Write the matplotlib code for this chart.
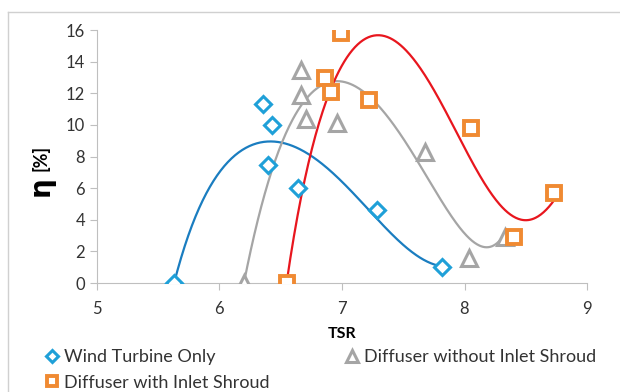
import numpy as np
import matplotlib
matplotlib.use("Agg")
from matplotlib import pyplot as plt

plt.rcParams['font.family'] = ['Lato', 'DejaVu Sans']

# TSR / efficiency readings (markers)
wt_x = [5.63, 6.36, 6.43, 6.40, 6.64, 7.29, 7.82]
wt_y = [0.0, 11.3, 10.0, 7.5, 6.0, 4.6, 1.0]

dn_x = [6.20, 6.67, 6.67, 6.71, 6.96, 7.68, 8.04, 8.33]
dn_y = [0.0, 13.5, 11.9, 10.4, 10.1, 8.3, 1.6, 2.9]

ds_x = [6.55, 6.99, 6.86, 6.91, 7.22, 8.05, 8.40, 8.73]
ds_y = [0.0, 15.8, 13.0, 12.1, 11.6, 9.8, 2.9, 5.7]

# trend curves
wt_cx = [5.63, 5.76, 5.98, 6.20, 6.41, 6.66, 6.85, 7.04, 7.23, 7.42, 7.58, 7.74, 7.82]
wt_cy = [0.0, 3.2, 6.9, 8.4, 9.0, 8.4, 7.5, 6.1, 4.6, 2.9, 1.9, 1.3, 1.0]

dn_cx = [6.20, 6.39, 6.49, 6.60, 6.71, 6.85, 6.98, 7.15, 7.31, 7.50, 7.64,
         7.80, 7.96, 8.18, 8.29, 8.33]
dn_cy = [0.0, 6.1, 8.4, 10.5, 11.8, 12.5, 12.7, 12.2, 11.1, 9.25, 7.5,
         5.25, 3.4, 2.4, 2.7, 3.1]

ds_cx = [6.55, 6.66, 6.74, 6.85, 6.93, 7.04, 7.15, 7.29, 7.45, 7.64, 7.80,
         7.96, 8.13, 8.29, 8.45, 8.53, 8.67, 8.74]
ds_cy = [0.0, 5.25, 8.2, 10.9, 12.4, 14.3, 15.4, 15.7, 15.25, 13.5, 11.6,
         9.05, 6.7, 5.06, 4.1, 3.9, 4.6, 5.4]

fig = plt.figure(figsize=(6.2, 3.92), dpi=100)
ax = fig.add_axes([0.156, 0.278, 0.791, 0.645])

def trend(x, y, deg, color):
    c = np.polyfit(x, y, deg)
    xs = np.linspace(min(x), max(x), 300)
    ax.plot(xs, np.polyval(c, xs), color=color, lw=1.6, zorder=2)

trend(wt_cx, wt_cy, 6, '#1A7DC0')
trend(dn_cx, dn_cy, 6, '#A5A5A5')
trend(ds_cx, ds_cy, 6, '#E8161E')

ax.plot(wt_x, wt_y, ls='none', marker='D', ms=8, mfc='white', mec='#1FA0D8',
        mew=2.2, label='Wind Turbine Only', zorder=3)
ax.plot(dn_x, dn_y, ls='none', marker='^', ms=11, mfc='white', mec='#A5A5A5',
        mew=2.2, label='Diffuser without Inlet Shroud', zorder=3)
ax.plot(ds_x, ds_y, ls='none', marker='s', ms=10, mfc='white', mec='#F08A32',
        mew=2.8, label='Diffuser with Inlet Shroud', zorder=3)

ax.set_xlim(5, 9)
ax.set_ylim(0, 16)
ax.set_xticks([5, 6, 7, 8, 9])
ax.set_yticks(range(0, 17, 2))
for s in ['top', 'right']:
    ax.spines[s].set_visible(False)
for s in ['left', 'bottom']:
    ax.spines[s].set_color('#BFBFBF')
ax.tick_params(colors='#BFBFBF', labelcolor='#333333', labelsize=12, length=5)
ax.tick_params(axis='x', pad=8)

ax.set_xlabel('TSR', fontsize=11.5, fontweight='bold', labelpad=7)
fig.text(0.066, 0.525, 'η', rotation=90, fontsize=20, fontweight='bold',
         ha='center', va='center', family='DejaVu Sans')
fig.text(0.066, 0.598, '[%]', rotation=90, fontsize=13, fontweight='bold',
         ha='center', va='center')

h, l = ax.get_legend_handles_labels()
fig.legend([h[0], h[2], h[1]], [l[0], l[2], l[1]], ncol=2, loc='upper left',
           bbox_to_anchor=(0.072, 0.11), frameon=False, fontsize=13,
           handlelength=0.8, handletextpad=0.25, columnspacing=4.2,
           labelspacing=0.55, borderpad=0, borderaxespad=0, markerscale=0.75,
           labelcolor='#333333')

# outer chart border
fig.add_artist(plt.Line2D([0.013, 0.013], [0, 0.97], color='#D0D0D0', lw=1))
fig.add_artist(plt.Line2D([0.013, 1], [0.97, 0.97], color='#D0D0D0', lw=1))

fig.savefig('out.png', dpi=100)
